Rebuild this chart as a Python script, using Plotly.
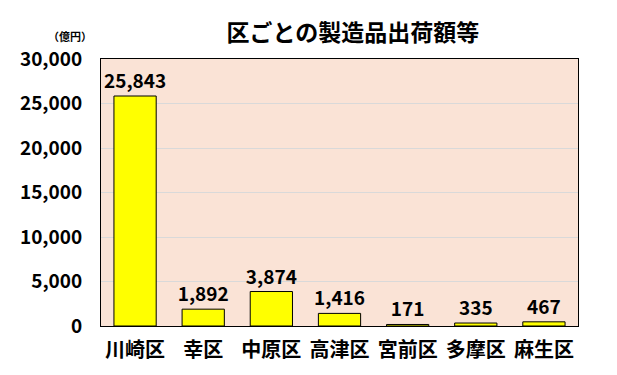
import plotly.graph_objects as go

categories = ["川崎区", "幸区", "中原区", "高津区", "宮前区", "多摩区", "麻生区"]
values = [25843, 1892, 3874, 1416, 171, 335, 467]
tick_vals = [0, 5000, 10000, 15000, 20000, 25000, 30000]
tick_text = ["0", "5,000", "10,000", "15,000", "20,000", "25,000", "30,000"]
labels = [f"<b>{v:,}</b>" for v in values]

font = "Noto Sans CJK JP"

fig = go.Figure(go.Bar(
    x=categories, y=values, text=labels, textposition="outside",
    constraintext="none",
    textfont=dict(family=font, size=19, color="black"),
    marker=dict(color="#FFFF00", line=dict(color="black", width=1)),
    width=0.62, cliponaxis=False,
))

fig.update_layout(
    width=609, height=367,
    margin=dict(l=89, r=39, t=51, b=49),
    paper_bgcolor="white", plot_bgcolor="#FAE3D6",
    showlegend=False,
    title=dict(text="<b>区ごとの製造品出荷額等</b>", x=0.5665, xanchor="center", y=0.932, yanchor="middle",
               font=dict(family=font, size=23, color="black")),
    annotations=[dict(text="<b>（億円）</b>", xref="paper", yref="paper", x=-0.065, y=1.085,
                      xanchor="center", yanchor="middle",
                      showarrow=False, font=dict(family=font, size=11, color="black"))],
)

fig.update_xaxes(showline=True, linecolor="black", linewidth=1, mirror=True,
                 tickfont=dict(family=font, size=20, color="black"), ticks="",
                 ticklabelstandoff=6,
                 tickvals=categories, ticktext=[f"<b>{c}</b>" for c in categories])
fig.update_yaxes(range=[0, 30000], tickvals=tick_vals, ticktext=[f"<b>{t}</b>" for t in tick_text],
                 showline=True, linecolor="black", linewidth=1, mirror=True,
                 gridcolor="#D9D9D9", gridwidth=1, zeroline=False,
                 ticklabelstandoff=14,
                 tickfont=dict(family=font, size=19, color="black"), ticks="")

fig.write_html("out.html")
